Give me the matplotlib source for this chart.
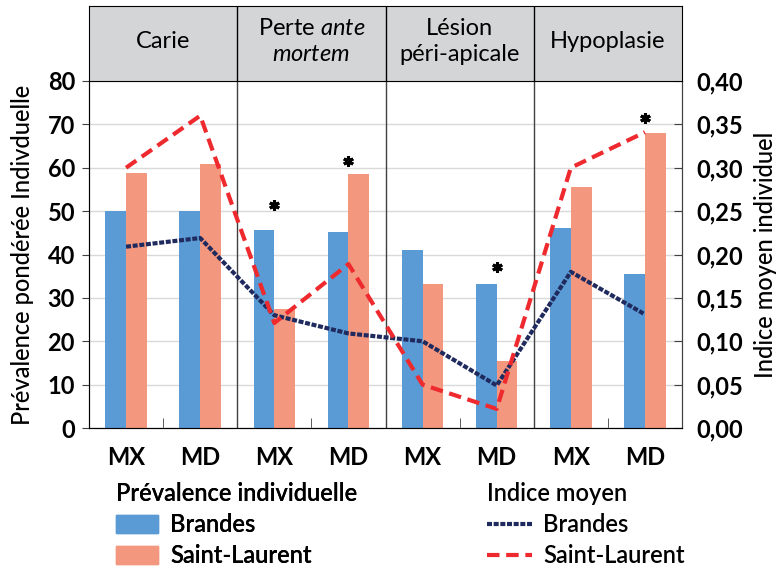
import matplotlib
matplotlib.use("Agg")
import matplotlib.pyplot as plt
from matplotlib.patches import Patch
from matplotlib.lines import Line2D

plt.rcParams['font.family'] = ['Lato', 'DejaVu Sans']
plt.rcParams['mathtext.fontset'] = 'custom'
plt.rcParams['mathtext.rm'] = 'Lato'
plt.rcParams['mathtext.it'] = 'Lato:italic'

groups = ["Carie", "Perte $\\mathit{ante}$\n$\\mathit{mortem}$", "Lésion\npéri-apicale", "Hypoplasie"]
categories = ["MX", "MD", "MX", "MD", "MX", "MD", "MX", "MD"]

# prévalence pondérée individuelle (%)
prev_brandes = [50, 50, 45.6, 45.2, 41, 33.2, 46, 35.4]
prev_stlaurent = [58.8, 60.8, 27.4, 58.5, 33.2, 15.5, 55.5, 68]

# indice moyen individuel
ind_brandes = [0.209, 0.219, 0.130, 0.109, 0.100, 0.049, 0.180, 0.131]
ind_stlaurent = [0.300, 0.360, 0.121, 0.189, 0.050, 0.022, 0.300, 0.341]

# significant differences (*)
star_pos = [2, 3, 5, 7]
star_y = [51.5, 61.5, 37.2, 71.4]

blue = '#5b9bd5'
salmon = '#f4977f'
navy = '#1f2a5e'
red = '#ee2a2f'
fs = 17

fig = plt.figure(figsize=(7.79, 5.70), dpi=100)
ax = fig.add_axes([89 / 779, 142 / 570, 593 / 779, 347 / 570])
x = list(range(len(categories)))
w = 0.28

ax.bar([i - w / 2 for i in x], prev_brandes, width=w, color=blue, zorder=2)
ax.bar([i + w / 2 for i in x], prev_stlaurent, width=w, color=salmon, zorder=2)
ax.plot(star_pos, star_y, linestyle='none', marker=(6, 2, 0), markersize=7.5,
        markeredgewidth=2.2, color='black', zorder=5)

ax.set_xlim(-0.5, 7.5)
ax.set_ylim(0, 80)
ax.set_yticks(range(0, 81, 10))
ax.yaxis.grid(True, color='#d9d9d9', linewidth=1)
ax.set_axisbelow(True)
for b in [1.5, 3.5, 5.5]:
    ax.axvline(b, color='#404040', linewidth=1, zorder=3)
ax.set_xticks(x)
ax.set_xticklabels(categories, fontsize=fs, fontweight='bold')
ax.set_xticks([0.5, 2.5, 4.5, 6.5], minor=True)
ax.tick_params(axis='x', which='major', length=0, pad=13)
ax.tick_params(axis='x', which='minor', direction='in', length=7, color='#404040')
ax.tick_params(axis='y', labelsize=fs, length=5, color='#404040', pad=5)
for lab in ax.get_yticklabels():
    lab.set_fontweight('bold')
for s in ['left', 'bottom']:
    ax.spines[s].set_color('#404040')
ax.spines['top'].set_visible(False)
ax.spines['right'].set_color('#404040')
ax.set_ylabel("Prévalence pondérée Indivduelle", fontsize=fs, fontweight='medium', labelpad=10)

ax2 = ax.twinx()
ax2.plot(x, ind_brandes, color=navy, linewidth=3, linestyle=(0, (1.2, 0.4)), zorder=4)
ax2.plot(x, ind_stlaurent, color=red, linewidth=3, linestyle=(0, (3, 1.6)), zorder=5)
ax2.set_ylim(0, 0.40)
ax2.set_yticks([i * 0.05 for i in range(9)])
ax2.set_yticklabels([f"{i * 0.05:.2f}".replace('.', ',') for i in range(9)],
                    fontsize=fs, fontweight='bold')
ax2.tick_params(axis='y', direction='in', length=6, color='#404040', pad=10)
ax2.spines['top'].set_visible(False)
ax2.spines['right'].set_color('#404040')
ax2.set_ylabel("Indice moyen individuel", fontsize=fs, fontweight='medium', labelpad=8)

# header band with group names
hx = fig.add_axes([89 / 779, 489 / 570, 593 / 779, 75 / 570])
hx.set_facecolor('#d4d5d6')
hx.set_xlim(-0.5, 7.5)
hx.set_ylim(0, 1)
hx.set_xticks([])
hx.set_yticks([])
for s in hx.spines.values():
    s.set_color('black')
for b in [1.5, 3.5, 5.5]:
    hx.axvline(b, color='black', linewidth=1)
for k, g in enumerate(groups):
    hx.text(2 * k + 0.5, 0.53, g, ha='center', va='center', fontsize=fs,
            linespacing=1.3)

# legends
h1 = [Patch(color=blue), Patch(color=salmon)]
h2 = [Line2D([], [], color=navy, linewidth=3, linestyle=(0, (1.2, 0.4))),
      Line2D([], [], color=red, linewidth=3, linestyle=(0, (3, 1.6)))]
lg1 = fig.legend(h1, ["Brandes", "Saint-Laurent"], title="Prévalence individuelle",
                 loc='upper left', bbox_to_anchor=(104 / 779, 1 - 470 / 570),
                 frameon=False, alignment='left',
                 title_fontproperties={'size': fs, 'weight': 'semibold'},
                 prop={'size': fs, 'weight': 'semibold'},
                 handlelength=1.8, handleheight=0.8, handletextpad=0.5,
                 labelspacing=0.35, borderpad=0)
lg2 = fig.legend(h2, ["Brandes", "Saint-Laurent"], title="Indice moyen",
                 loc='upper left', bbox_to_anchor=(475 / 779, 1 - 470 / 570),
                 frameon=False, alignment='left',
                 title_fontproperties={'size': fs, 'weight': 'semibold'},
                 prop={'size': fs, 'weight': 'semibold'},
                 handlelength=1.9, handletextpad=0.5, labelspacing=0.35, borderpad=0)
fig.add_artist(lg1)

fig.savefig("out.png", dpi=100)
